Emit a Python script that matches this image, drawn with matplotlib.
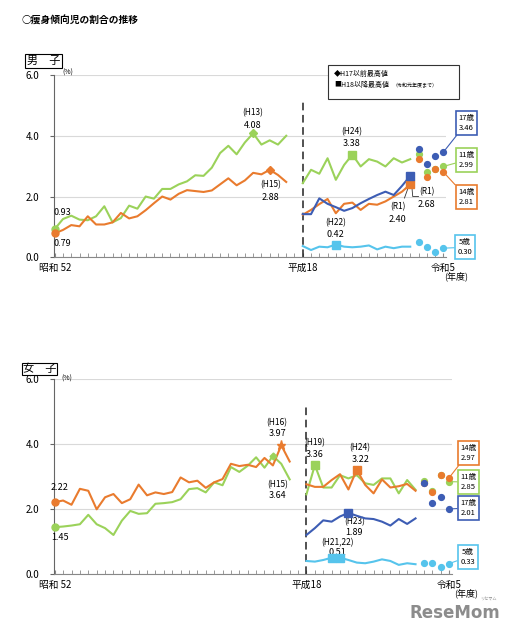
import matplotlib
matplotlib.use('Agg')
import matplotlib.pyplot as plt
from matplotlib.patches import Rectangle

plt.rcParams['font.family'] = ['Noto Sans CJK JP', 'DejaVu Sans']

# year slots: 1977-2005 -> 0..28, blank slot 29, 2006-2023 -> 30..47
years_pre = list(range(1977, 2006))
years_post = list(range(2006, 2020))
years_dots = list(range(2020, 2024))

# ---- boys (男子) ----
b11_pre = [0.93, 1.26, 1.37, 1.24, 1.22, 1.35, 1.68, 1.15, 1.29, 1.70, 1.60, 2.00, 1.93, 2.25, 2.25,
           2.40, 2.50, 2.70, 2.68, 2.95, 3.43, 3.67, 3.39, 3.78, 4.08, 3.71, 3.85, 3.71, 4.00]
b14_pre = [0.79, 0.90, 1.06, 1.02, 1.35, 1.08, 1.08, 1.15, 1.46, 1.28, 1.35, 1.55, 1.78, 2.00, 1.90,
           2.09, 2.21, 2.18, 2.15, 2.20, 2.40, 2.60, 2.37, 2.53, 2.78, 2.73, 2.88, 2.71, 2.48]
b11_post = [2.44, 2.88, 2.75, 3.26, 2.55, 3.04, 3.38, 2.99, 3.23, 3.15, 2.99, 3.26, 3.12, 3.23]
b14_post = [1.40, 1.56, 1.75, 1.92, 1.45, 1.76, 1.80, 1.56, 1.76, 1.73, 1.84, 2.00, 2.16, 2.40]
b17_post = [1.42, 1.42, 1.94, 1.76, 1.65, 1.53, 1.62, 1.78, 1.92, 2.05, 2.16, 2.05, 2.35, 2.68]
b5_post = [0.37, 0.24, 0.35, 0.33, 0.42, 0.35, 0.33, 0.35, 0.39, 0.26, 0.35, 0.30, 0.35, 0.35]
b11_dots = [3.40, 2.82, 2.90, 2.99]
b14_dots = [3.23, 2.64, 2.90, 2.81]
b17_dots = [3.57, 3.07, 3.32, 3.46]
b5_dots = [0.49, 0.33, 0.19, 0.30]

# ---- girls (女子) ----
g11_pre = [1.45, 1.47, 1.50, 1.54, 1.83, 1.54, 1.42, 1.21, 1.65, 1.95, 1.86, 1.88, 2.17, 2.19, 2.22,
           2.31, 2.62, 2.65, 2.52, 2.83, 2.74, 3.30, 3.15, 3.34, 3.60, 3.28, 3.64, 3.40, 2.92]
g14_pre = [2.22, 2.27, 2.14, 2.63, 2.57, 2.00, 2.37, 2.47, 2.19, 2.31, 2.76, 2.43, 2.52, 2.47, 2.53,
           2.98, 2.83, 2.88, 2.66, 2.83, 2.93, 3.40, 3.33, 3.37, 3.30, 3.58, 3.35, 3.97, 3.47]
g11_post = [2.46, 3.36, 2.67, 2.67, 3.05, 2.95, 3.05, 2.80, 2.75, 2.95, 2.95, 2.49, 2.90, 2.60]
g14_post = [2.77, 2.69, 2.69, 2.90, 3.08, 2.61, 3.22, 2.75, 2.49, 2.92, 2.67, 2.71, 2.78, 2.57]
g17_post = [1.21, 1.42, 1.66, 1.62, 1.78, 1.89, 1.80, 1.72, 1.70, 1.62, 1.50, 1.70, 1.55, 1.72]
g5_post = [0.41, 0.39, 0.44, 0.51, 0.51, 0.44, 0.36, 0.34, 0.39, 0.46, 0.41, 0.29, 0.34, 0.31]
g11_dots = [2.87, 2.56, 3.06, 2.85]
g14_dots = [2.82, 2.54, 3.07, 2.97]
g17_dots = [2.80, 2.18, 2.37, 2.01]
g5_dots = [0.36, 0.36, 0.21, 0.33]

GREEN = '#9BD25A'
ORANGE = '#E97B2E'
BLUE = '#3D5DB4'
LBLUE = '#56C4EC'


def slot(y):
    return y - 1977 if y <= 2005 else y - 1976


def P(x, y):
    return x / 506, 1 - y / 640


x_pre = [slot(y) for y in years_pre]
x_post = [slot(y) for y in years_post]
x_dots = [slot(y) for y in years_dots]

fig = plt.figure(figsize=(5.06, 6.4), dpi=100)
fig.text(*P(22, 21), '○痩身傾向児の割合の推移', fontsize=7, fontweight='bold', va='center')


def setup(ax, xr):
    ax.set_xlim(-0.05, xr)
    ax.set_ylim(0, 6)
    ax.set_yticks([0, 2, 4, 6])
    ax.set_yticklabels(['0.0', '2.0', '4.0', '6.0'], fontsize=7)
    ax.yaxis.grid(True, color='#d9d9d9', lw=0.8)
    ax.set_axisbelow(True)
    for s in ['top', 'right']:
        ax.spines[s].set_visible(False)
    ax.spines['left'].set_color('#666666')
    ax.spines['bottom'].set_color('#888888')
    ax.tick_params(axis='y', direction='out', length=3, pad=8, color='#666666')
    ax.set_xticks([0, 30, 47])
    ax.set_xticklabels(['昭和 52', '平成18', '令和5'], fontsize=7)
    ax.set_xticks(range(48), minor=True)
    ax.tick_params(axis='x', which='both', direction='in', length=3, color='#888888', pad=4)
    ax.axvline(30, ymin=0, ymax=0.86, color='#222222', ls=(0, (5, 3)), lw=1.1)


def series(ax, pre, post, dots, col, z=2):
    if pre is not None:
        ax.plot(x_pre, pre, color=col, lw=1.5, zorder=z)
    ax.plot(x_post, post, color=col, lw=1.5, zorder=z)
    ax.plot(x_dots, dots, 'o', color=col, ms=4.2, zorder=z + 1, clip_on=False)


def boxlabel(ax, txt, xy, xytext, col):
    ax.annotate(txt, xy=xy, xytext=xytext, fontsize=5.5, ha='center', va='center',
                annotation_clip=False, linespacing=1.4,
                bbox=dict(boxstyle='square,pad=0.35', fc='white', ec=col, lw=1.2),
                arrowprops=dict(arrowstyle='-', color=col, lw=0.8, shrinkA=0, shrinkB=0))


def lab(ax, x, y, s, fs=6.5, ha='center'):
    ax.text(x, y, s, fontsize=fs, ha=ha, va='center', clip_on=False)


# ================= boys =================
ax1 = fig.add_axes([54.3 / 506, 1 - 257.3 / 640, 47.3 * 8.277 / 506, 182.3 / 640])
setup(ax1, 47.3)
series(ax1, b11_pre, b11_post, b11_dots, GREEN)
series(ax1, b14_pre, b14_post, b14_dots, ORANGE)
series(ax1, None, b17_post, b17_dots, BLUE)
series(ax1, None, b5_post, b5_dots, LBLUE)

ax1.plot(0, b11_pre[0], 'o', color=GREEN, ms=5, zorder=5, clip_on=False)
ax1.plot(0, b14_pre[0], 'o', color=ORANGE, ms=5, zorder=5, clip_on=False)
ax1.plot(slot(2001), b11_pre[24], 'D', color=GREEN, ms=4.5, zorder=5)
ax1.plot(slot(2003), b14_pre[26], 'D', color=ORANGE, ms=4, zorder=5)
ax1.plot(slot(2012), b11_post[6], 's', color=GREEN, ms=5.5, zorder=5)
ax1.plot(slot(2010), b5_post[4], 's', color=LBLUE, ms=5.5, zorder=5)
ax1.plot(slot(2019), b17_post[13], 's', color=BLUE, ms=5.5, zorder=6)
ax1.plot(slot(2019), b14_post[13], 's', color=ORANGE, ms=5.5, zorder=5)

lab(ax1, 0.9, 1.47, '0.93')
lab(ax1, 0.9, 0.47, '0.79')
lab(ax1, 23.9, 4.75, '(H13)', 6)
lab(ax1, 23.9, 4.35, '4.08')
lab(ax1, 26.1, 2.38, '(H15)', 6)
lab(ax1, 26.1, 1.98, '2.88')
lab(ax1, 35.9, 4.13, '(H24)', 6)
lab(ax1, 35.9, 3.73, '3.38')
lab(ax1, 34.0, 1.13, '(H22)', 6)
lab(ax1, 34.0, 0.74, '0.42')
lab(ax1, 41.5, 1.67, '(R1)', 6)
lab(ax1, 41.5, 1.26, '2.40')
lab(ax1, 45.0, 2.16, '(R1)', 6)
lab(ax1, 45.0, 1.75, '2.68')
ax1.plot([42.8, 42.3], [2.33, 1.95], color='#333333', lw=0.6)
ax1.plot([43.1, 43.3, 44.0], [2.62, 2.0, 2.0], color='#333333', lw=0.6)

boxlabel(ax1, '17歳\n3.46', (47, 3.46), (49.8, 4.42), BLUE)
boxlabel(ax1, '11歳\n2.99', (47, 2.99), (49.8, 3.20), GREEN)
boxlabel(ax1, '14歳\n2.81', (47, 2.81), (49.8, 1.98), ORANGE)
boxlabel(ax1, '5歳\n0.30', (47, 0.30), (49.6, 0.33), LBLUE)

fig.text(*P(27, 61), '男　子', fontsize=8, va='center',
         bbox=dict(boxstyle='square,pad=0.15', fc='white', ec='black', lw=0.8))
fig.text(*P(62, 73), '(%)', fontsize=5, va='center')
fig.text(*P(456, 276), '(年度)', fontsize=6.5, ha='center', va='center')

# legend box
fig.patches.append(Rectangle(P(328, 99), 131 / 506, 33.5 / 640, transform=fig.transFigure,
                             fc='white', ec='#333333', lw=0.8, zorder=3))
fig.text(*P(334, 74), '◆H17以前最高値', fontsize=5, va='center', zorder=4)
fig.text(*P(334, 85), '■H18以降最高値', fontsize=5, va='center', zorder=4)
fig.text(*P(393, 85.5), '（令和元年度まで）', fontsize=3.6, va='center', zorder=4)

# ================= girls =================
ax2 = fig.add_axes([54.3 / 506, 1 - 574.3 / 640, 47.3 * 8.4 / 506, 195 / 640])
setup(ax2, 47.3)
series(ax2, g11_pre, g11_post, g11_dots, GREEN)
series(ax2, g14_pre, g14_post, g14_dots, ORANGE, z=3)
series(ax2, None, g17_post, g17_dots, BLUE, z=4)
series(ax2, None, g5_post, g5_dots, LBLUE)

ax2.plot(0, g14_pre[0], 'o', color=ORANGE, ms=5, zorder=6, clip_on=False)
ax2.plot(0, g11_pre[0], 'o', color=GREEN, ms=5, zorder=6, clip_on=False)
ax2.plot(slot(2004), g14_pre[27], '*', color=ORANGE, ms=6.5, zorder=6)
ax2.plot(slot(2003), g11_pre[26], 'D', color=GREEN, ms=3.5, zorder=6)
ax2.plot(slot(2007), g11_post[1], 's', color=GREEN, ms=5.5, zorder=6)
ax2.plot(slot(2012), g14_post[6], 's', color=ORANGE, ms=5.5, zorder=6)
ax2.plot(slot(2011), g17_post[5], 's', color=BLUE, ms=5.5, zorder=6)
ax2.plot([slot(2009), slot(2010)], [g5_post[3], g5_post[4]], 's', color=LBLUE, ms=5.5, zorder=6)

lab(ax2, 0.6, 2.66, '2.22')
lab(ax2, 0.6, 1.13, '1.45')
lab(ax2, 26.5, 4.66, '(H16)', 6)
lab(ax2, 26.5, 4.34, '3.97')
lab(ax2, 26.6, 2.75, '(H15)', 6)
lab(ax2, 26.6, 2.41, '3.64')
lab(ax2, 31.0, 4.05, '(H19)', 6)
lab(ax2, 31.0, 3.70, '3.36')
lab(ax2, 36.4, 3.89, '(H24)', 6)
lab(ax2, 36.4, 3.52, '3.22')
lab(ax2, 35.7, 1.62, '(H23)', 6)
lab(ax2, 35.7, 1.28, '1.89')
lab(ax2, 33.7, 0.98, '(H21,22)', 6)
lab(ax2, 33.7, 0.66, '0.51')

boxlabel(ax2, '14歳\n2.97', (47, 2.97), (49.3, 3.73), ORANGE)
boxlabel(ax2, '11歳\n2.85', (47, 2.85), (49.3, 2.84), GREEN)
boxlabel(ax2, '17歳\n2.01', (47, 2.01), (49.3, 2.04), BLUE)
boxlabel(ax2, '5歳\n0.33', (47, 0.33), (49.2, 0.53), LBLUE)

fig.text(*P(23, 369), '女　子', fontsize=8, va='center',
         bbox=dict(boxstyle='square,pad=0.1', fc='white', ec='black', lw=0.8))
fig.text(*P(61, 379), '(%)', fontsize=5, va='center')
fig.text(*P(466, 593), '(年度)', fontsize=6.5, ha='center', va='center')

# watermark
fig.text(*P(455, 613), 'ReseMom', fontsize=12, fontweight='bold', color='#8c8c8c',
         ha='center', va='center', family='DejaVu Sans')
fig.text(*P(488, 599), 'リセマム', fontsize=3, color='#8c8c8c', ha='center', va='center')

fig.savefig('out.png', dpi=100)
